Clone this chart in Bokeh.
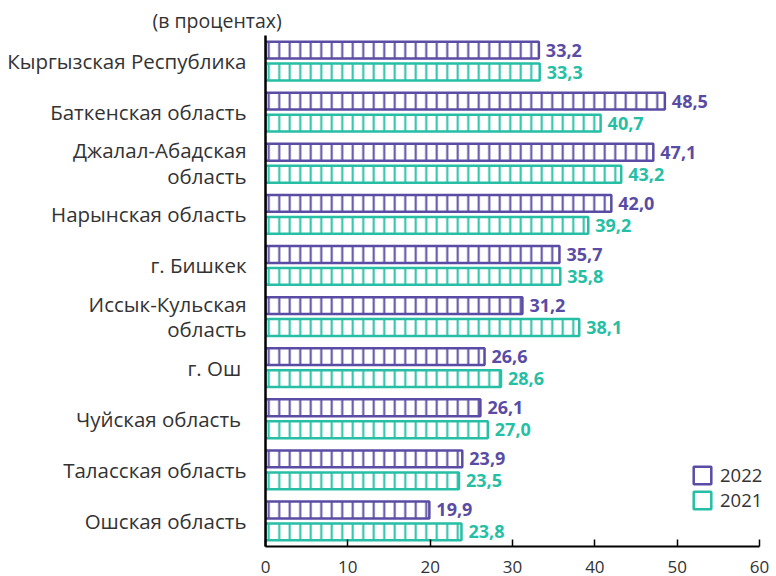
from bokeh.plotting import figure
from bokeh.models import FactorRange, ColumnDataSource, Legend, LegendItem, Range1d
from bokeh.transform import dodge
from bokeh.core.properties import value
from bokeh.embed import file_html
from bokeh.resources import INLINE

categories = ["Кыргызская Республика", "Баткенская область", "Джалал-Абадская\nобласть",
              "Нарынская область", "г. Бишкек", "Иссык-Кульская\nобласть", "г. Ош ",
              "Чуйская область ", "Таласская область", "Ошская область"]
v2022 = [33.2, 48.5, 47.1, 42.0, 35.7, 31.2, 26.6, 26.1, 23.9, 19.9]
v2021 = [33.3, 40.7, 43.2, 39.2, 35.8, 38.1, 28.6, 27.0, 23.5, 23.8]
series_names = ["2022", "2021"]
x_ticks = [0, 10, 20, 30, 40, 50, 60]
title_text = "(в процентах)"

PURPLE = "#5a4ca4"
TEAL = "#26bfa5"
TXT = "#333333"
FONT = "Open Sans"

def fmt(v):
    return f"{v:.1f}".replace(".", ",")

src = ColumnDataSource(dict(
    cat=categories, v2022=v2022, v2021=v2021,
    l2022=[fmt(v) for v in v2022], l2021=[fmt(v) for v in v2021],
))

# frame runs to the right edge so the legend is not clipped; the axis itself stops at 60
p = figure(width=776, height=576, output_backend="svg", toolbar_location=None,
           x_range=Range1d(0, 62.06), y_range=FactorRange(factors=categories[::-1], range_padding=0),
           min_border_left=265, min_border_right=0, min_border_top=35, min_border_bottom=30)
p.outline_line_color = None
p.xgrid.grid_line_color = None
p.ygrid.grid_line_color = None

p.title.text = title_text
p.title.align = "left"
p.title.offset = -113
p.title.standoff = 4
p.title.text_font = FONT
p.title.text_font_size = "19.5px"
p.title.text_font_style = "normal"
p.title.text_color = TXT

off = 0.215
h = 0.33
for col, lab, color, o in [("v2022", "l2022", PURPLE, off), ("v2021", "l2021", TEAL, -off)]:
    p.hbar(y=dodge("cat", o, range=p.y_range), left=0, right=col, height=h, source=src,
           fill_color="white", line_color=color, line_width=2.5,
           hatch_pattern="|", hatch_color=color, hatch_weight=2, hatch_scale=10.5)
    p.text(x=col, y=dodge("cat", o, range=p.y_range), text=lab, source=src,
           x_offset=7, text_baseline="middle", text_align="left",
           text_font=value(FONT), text_font_style="bold", text_font_size="18px",
           text_color=color)

# axes
p.xaxis.ticker = x_ticks
p.xaxis.bounds = (0, 60)
p.xaxis.axis_line_width = 2
p.xaxis.axis_line_color = "black"
p.xaxis.major_tick_in = 7
p.xaxis.major_tick_out = 0
p.xaxis.major_tick_line_width = 1.5
p.xaxis.major_tick_line_color = "black"
p.xaxis.minor_tick_line_color = None
p.xaxis.major_label_text_font = FONT
p.xaxis.major_label_text_font_size = "17px"
p.xaxis.major_label_text_color = TXT
p.xaxis.major_label_standoff = 14

p.yaxis.axis_line_width = 2.5
p.yaxis.axis_line_color = "black"
p.yaxis.major_tick_line_color = None
p.yaxis.minor_tick_line_color = None
p.yaxis.major_label_standoff = 13
p.yaxis.major_label_text_font = FONT
p.yaxis.major_label_text_font_size = "20.5px"
p.yaxis.major_label_text_line_height = 0.92
p.yaxis.major_label_text_color = TXT

# legend (proxy renderers, hidden, only used for legend swatches)
r22 = p.hbar(y=[categories[0]], left=[0], right=[0], height=0.3, fill_color=None,
             line_color=PURPLE, line_width=2.5, visible=False)
r21 = p.hbar(y=[categories[0]], left=[0], right=[0], height=0.3, fill_color=None,
             line_color=TEAL, line_width=2.5, visible=False)
legend = Legend(items=[LegendItem(label=series_names[0], renderers=[r22]),
                       LegendItem(label=series_names[1], renderers=[r21])],
                location=(426, 34), padding=0, margin=0, spacing=0,
                glyph_width=22, glyph_height=22, label_standoff=7,
                label_text_font=FONT, label_text_font_size="18.5px", label_text_color=TXT,
                background_fill_alpha=0, border_line_color=None,
                inactive_fill_alpha=0, click_policy="none")
p.add_layout(legend)

open("out.html", "w").write(file_html(p, INLINE))
